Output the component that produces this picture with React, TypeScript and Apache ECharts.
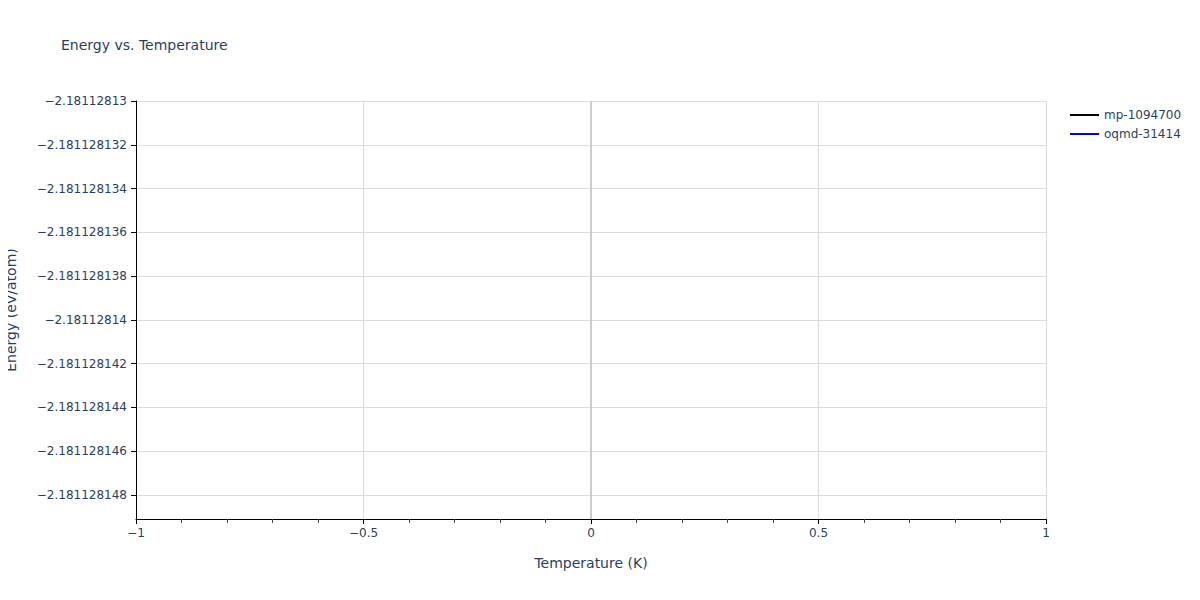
import * as echarts from "echarts";
import React, { useEffect, useRef } from "react";

const seriesNames = ["mp-1094700", "oqmd-31414"];
const seriesColors = ["#000000", "#0000ff"];
const temperatures = [0];
const energyMp = [-2.18112813];
const energyOqmd = [-2.1811281491];

// y axis: top value and the depth below it (in 1e-9 eV/atom)
const yTop = -2.18112813;
const yDepth = 19.1;
const yStep = 2;
const xTicks = [-1, 1, 0.5];

const fontFamily = "Verdana, 'DejaVu Sans', sans-serif";
const textColor = "#2a3f5f";

// offset below the top value, in nano units, so ticks count from 0
const toOffset = (e: number) => (yTop - e) * 1e9;

const fmt = (v: number) => {
  const e = yTop - v * 1e-9;
  const s = String(Number(e.toFixed(9)));
  return s.replace("-", "\u2212");
};

export default function App() {
  const chartRef = useRef<HTMLDivElement>(null);

  useEffect(() => {
    if (!chartRef.current) return;
    const chart = echarts.init(chartRef.current, null, { renderer: "svg" });

    const mk = (name: string, color: string, ys: number[], zero: boolean) => ({
      name,
      type: "line",
      data: temperatures.map((t, i) => [t, toOffset(ys[i])]),
      symbol: "none",
      lineStyle: { color, width: 2 },
      itemStyle: { color },
      ...(zero
        ? {
            markLine: {
              silent: true,
              symbol: "none",
              label: { show: false },
              lineStyle: { color: "#cccccc", width: 2, type: "solid" },
              data: [{ xAxis: 0 }],
            },
          }
        : {}),
    });

    chart.setOption({
      animation: false,
      textStyle: { fontFamily },
      title: {
        text: "Energy vs. Temperature",
        left: 56,
        top: 33,
        textStyle: { fontFamily, fontSize: 14, fontWeight: "normal", color: textColor },
      },
      legend: {
        orient: "vertical",
        left: 1065,
        top: 104,
        itemWidth: 29,
        itemHeight: 2,
        itemGap: 7,
        icon: "rect",
        data: seriesNames,
        textStyle: { fontFamily, fontSize: 12, color: textColor },
      },
      // y axis title, drawn as text so it is not clipped at the page edge
      graphic: [
        {
          type: "text",
          x: 11,
          y: 310,
          rotation: Math.PI / 2,
          style: {
            text: "Energy (eV/atom)",
            fontFamily,
            fontSize: 14,
            fill: textColor,
            align: "center",
            verticalAlign: "middle",
          },
        },
      ],
      grid: {
        left: 136,
        right: 154,
        top: 101,
        bottom: 81,
        containLabel: false,
        outerBoundsMode: "none",
      },
      xAxis: {
        type: "value",
        min: xTicks[0],
        max: xTicks[1],
        interval: xTicks[2],
        name: "Temperature (K)",
        nameLocation: "middle",
        nameGap: 37,
        nameTextStyle: { fontFamily, fontSize: 14, color: textColor },
        axisLine: { show: true, onZero: false, lineStyle: { color: "#000", width: 1 } },
        axisTick: { show: true, length: 5, lineStyle: { color: "#000" } },
        minorTick: { show: true, splitNumber: 5, length: 4, lineStyle: { color: "#444" } },
        axisLabel: {
          fontFamily,
          fontSize: 12,
          color: textColor,
          margin: 8,
          formatter: (v: number) => String(v).replace("-", "\u2212"),
        },
        splitLine: { show: true, lineStyle: { color: "#dcdcdc", width: 1 } },
      },
      yAxis: {
        type: "value",
        inverse: true,
        min: 0,
        max: yDepth,
        interval: yStep,
        axisLine: { show: true, onZero: false, lineStyle: { color: "#000", width: 1 } },
        axisTick: { show: true, length: 5, lineStyle: { color: "#000" } },
        axisLabel: {
          fontFamily,
          fontSize: 12,
          color: textColor,
          margin: 9,
          showMaxLabel: false,
          formatter: fmt,
        },
        splitLine: { show: true, lineStyle: { color: "#dcdcdc", width: 1 } },
      },
      series: [
        mk(seriesNames[0], seriesColors[0], energyMp, true),
        mk(seriesNames[1], seriesColors[1], energyOqmd, false),
      ],
    });

    return () => {
      chart.dispose();
    };
  }, []);

  return <div ref={chartRef} style={{ width: 1200, height: 600, margin: -8 }} />;
}
